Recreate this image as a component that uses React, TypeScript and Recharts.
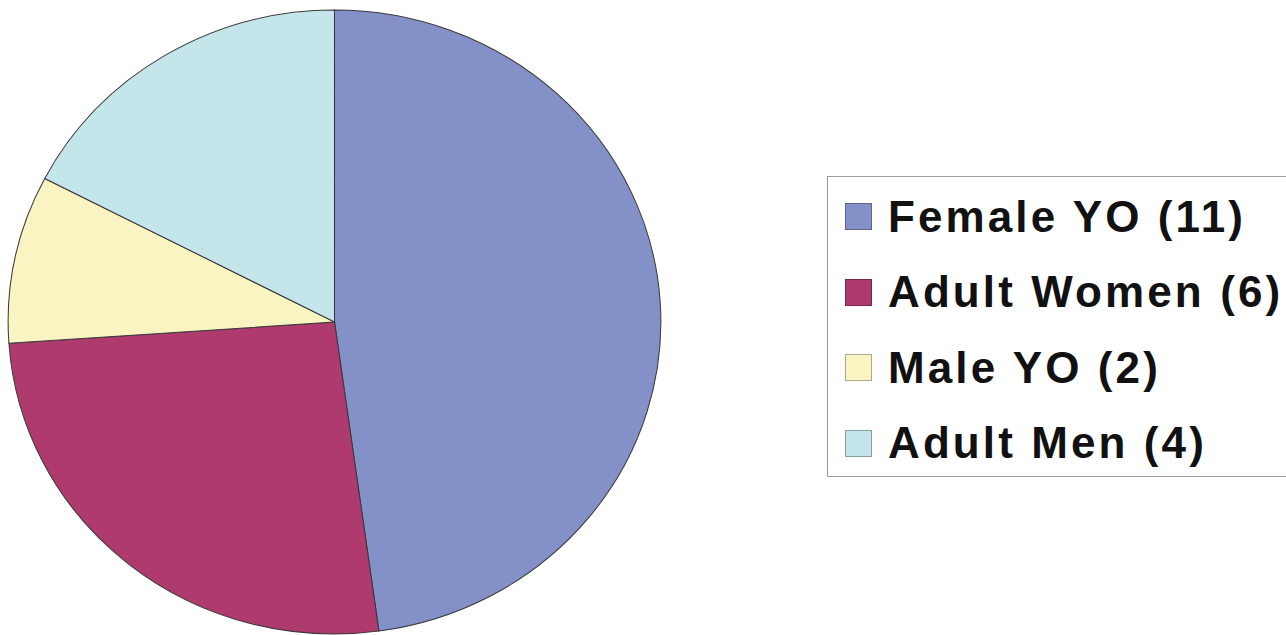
import { PieChart, Pie, Cell, Legend, Sector } from 'recharts';

const groups = ['Female YO', 'Adult Women', 'Male YO', 'Adult Men'];
const counts = [11, 6, 2, 4];
const colors = ['#8491C9', '#AE3A6E', '#FAF3C2', '#C4E5E9'];

const data = groups.map((g, i) => ({ name: `${g} (${counts[i]})`, value: counts[i] }));
const order = data.map(d => d.name);

// the source pie is slightly wider than tall, so stretch each sector a bit
const STRETCH_X = 1.046;

function StretchedSector(props: any) {
  const { cx, cy } = props;
  return (
    <g transform={`translate(${cx} ${cy}) scale(${STRETCH_X} 1) translate(${-cx} ${-cy})`}>
      <Sector {...props} />
    </g>
  );
}

function LegendBox({ payload }: any) {
  // keep the slice order, recharts sorts by name otherwise
  const items = [...(payload ?? [])].sort((a: any, b: any) => order.indexOf(a.value) - order.indexOf(b.value));
  return (
    <div
      style={{
        boxSizing: 'border-box',
        width: 470,
        height: 301,
        border: '1.5px solid #9c9c9c',
        borderRight: 'none',
        background: '#fff',
        paddingTop: 2,
      }}
    >
      {items.map((p: any) => (
        <div key={p.value} style={{ height: 75.5, display: 'flex', alignItems: 'center' }}>
          <span
            style={{
              display: 'inline-block',
              boxSizing: 'border-box',
              width: 27,
              height: 27,
              marginLeft: 17,
              marginRight: 16,
              background: p.color,
              border: '1.5px solid rgba(0,0,0,0.3)',
            }}
          />
          <span
            style={{
              fontFamily: '"Liberation Sans", Arial, sans-serif',
              fontWeight: 700,
              fontSize: 44,
              lineHeight: 1,
              letterSpacing: 3.1,
              color: '#111',
              whiteSpace: 'nowrap',
            }}
          >
            {p.value}
          </span>
        </div>
      ))}
    </div>
  );
}

export default function App() {
  return (
    <div style={{ position: 'absolute', left: 0, top: 0, width: 1286, height: 635, overflow: 'hidden', background: '#fff' }}>
      <PieChart width={1286} height={635} margin={{ top: 0, right: 0, bottom: 0, left: 0 }}>
        <Pie
          data={data}
          dataKey="value"
          nameKey="name"
          cx={334.5}
          cy={322}
          outerRadius={312}
          startAngle={90}
          endAngle={-270}
          stroke="#3a3a3a"
          strokeWidth={1}
          shape={StretchedSector}
          isAnimationActive={false}
        >
          {data.map((d, i) => (
            <Cell key={d.name} fill={colors[i]} />
          ))}
        </Pie>
        <Legend
          layout="vertical"
          content={<LegendBox />}
          wrapperStyle={{ position: 'absolute', left: 827, top: 176, width: 470, height: 301 }}
        />
      </PieChart>
    </div>
  );
}
